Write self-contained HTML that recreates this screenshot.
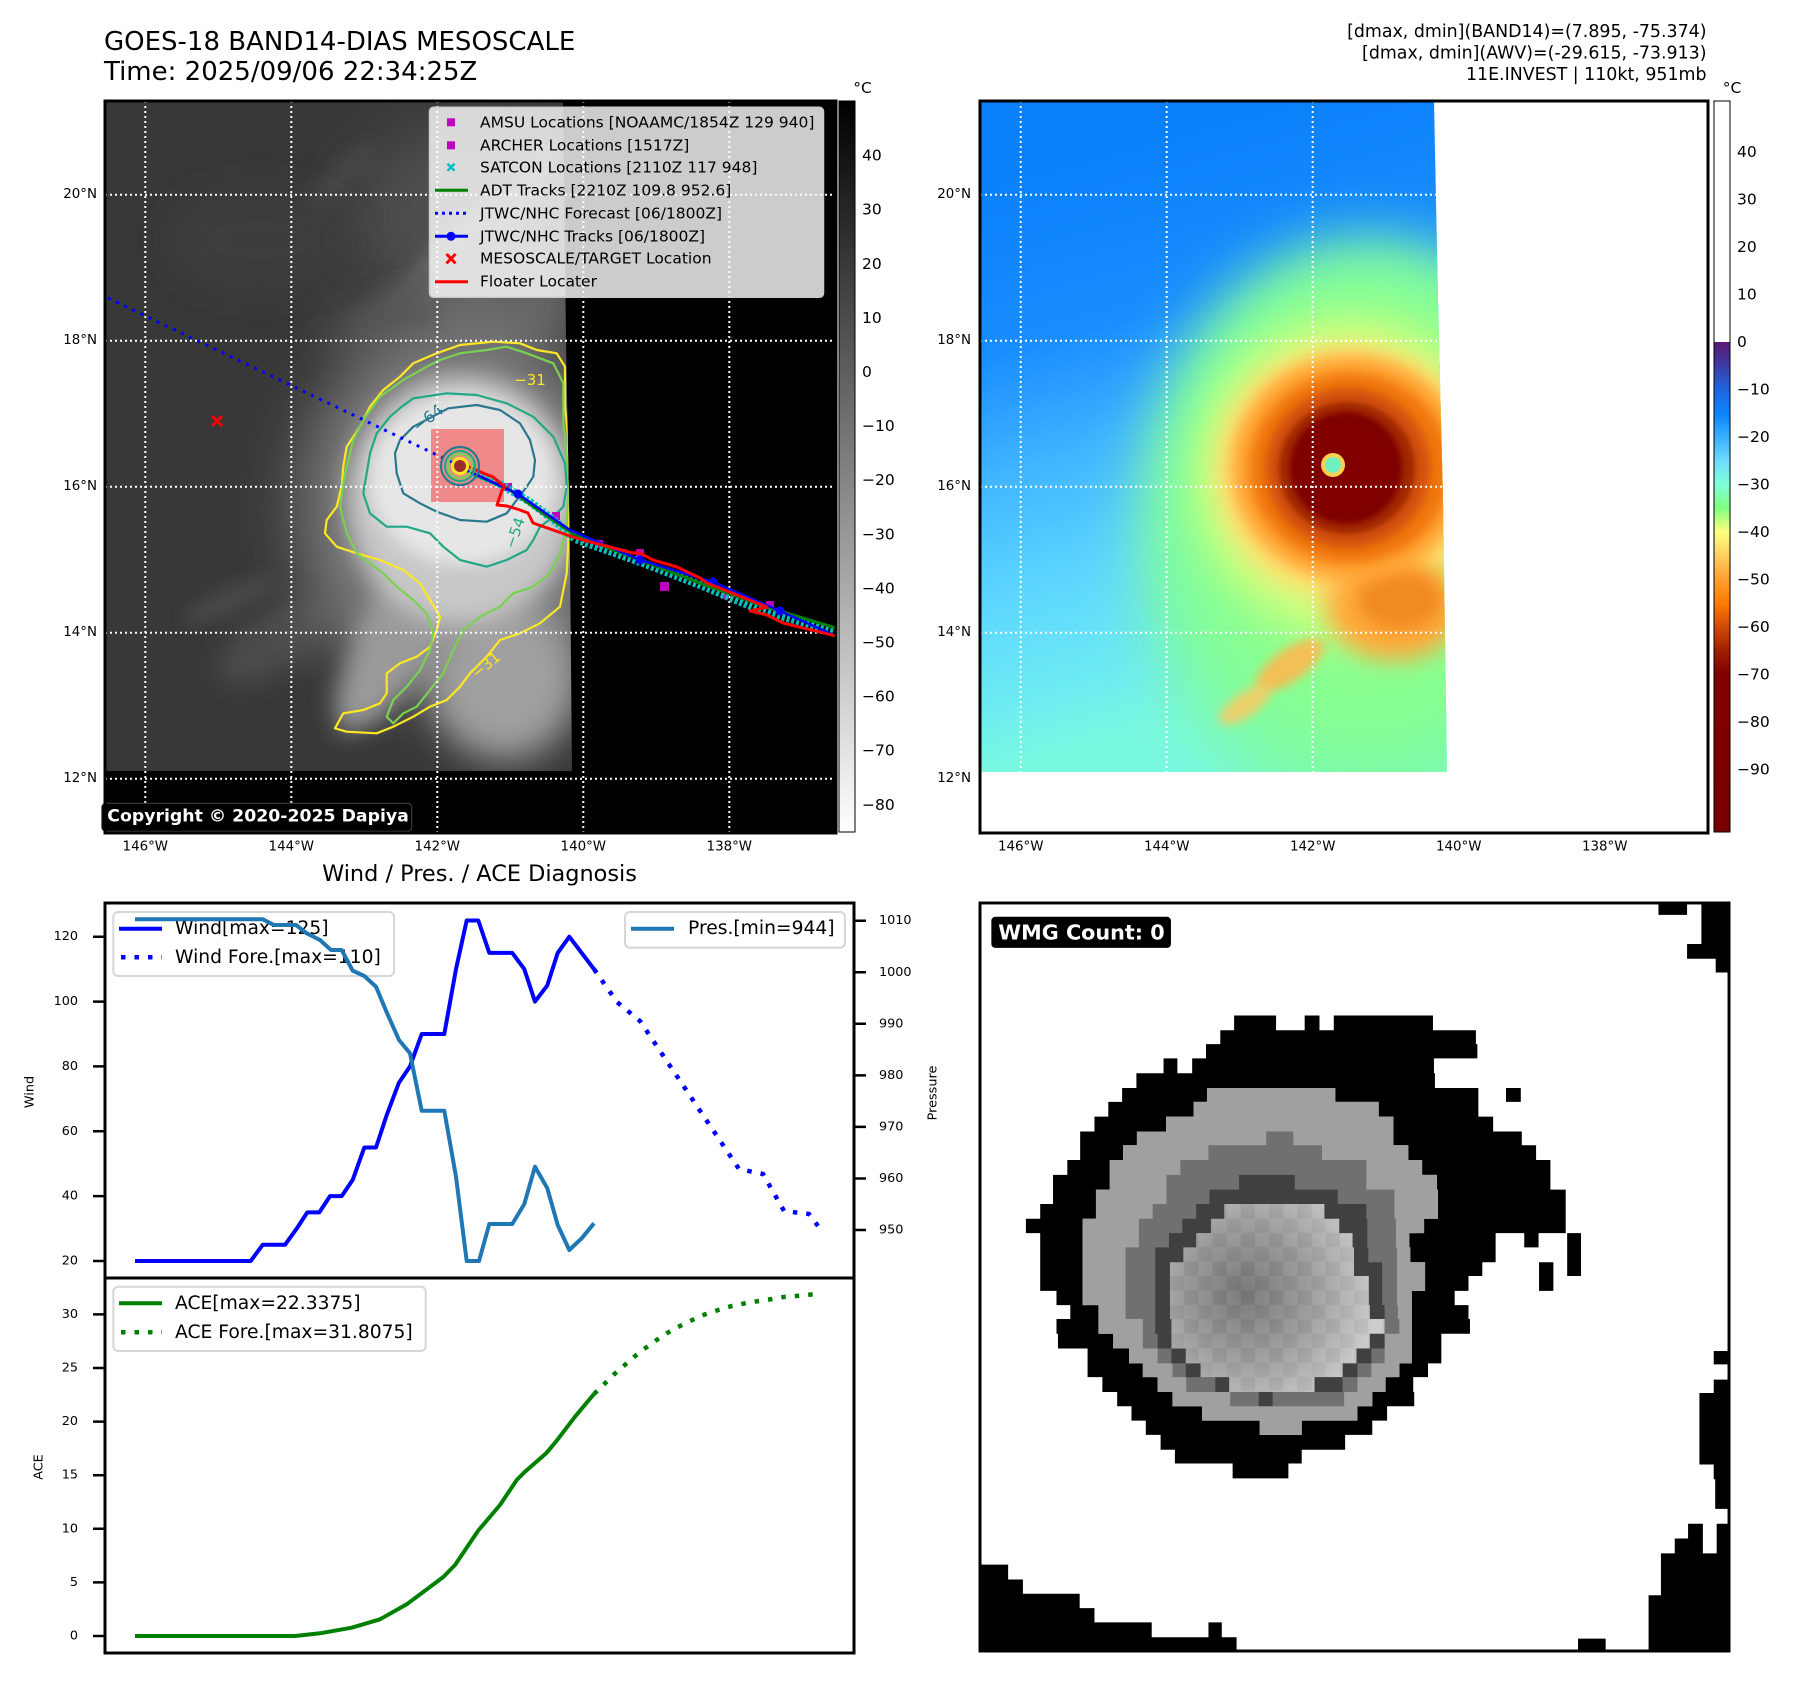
<!DOCTYPE html>
<html><head><meta charset="utf-8"><title>GOES-18 BAND14-DIAS MESOSCALE</title>
<style>
html,body{margin:0;padding:0;background:#fff;width:1797px;height:1690px;overflow:hidden}
svg{display:block}
text{font-family:"DejaVu Sans","Liberation Sans",sans-serif;fill:#000}
</style></head><body>
<svg xmlns="http://www.w3.org/2000/svg" width="1797" height="1690" viewBox="0 0 1797 1690">
<defs>
<filter id="b3" filterUnits="userSpaceOnUse" x="0" y="0" width="1797" height="1690"><feGaussianBlur stdDeviation="3"/></filter>
<filter id="b5" filterUnits="userSpaceOnUse" x="0" y="0" width="1797" height="1690"><feGaussianBlur stdDeviation="5"/></filter>
<filter id="b8" filterUnits="userSpaceOnUse" x="0" y="0" width="1797" height="1690"><feGaussianBlur stdDeviation="8"/></filter>
<filter id="b12" filterUnits="userSpaceOnUse" x="0" y="0" width="1797" height="1690"><feGaussianBlur stdDeviation="12"/></filter>
<filter id="b18" filterUnits="userSpaceOnUse" x="0" y="0" width="1797" height="1690"><feGaussianBlur stdDeviation="18"/></filter>
<filter id="b30" filterUnits="userSpaceOnUse" x="0" y="0" width="1797" height="1690"><feGaussianBlur stdDeviation="30"/></filter>
<clipPath id="cL"><polygon points="105,101 563,101 566,340 570,560 572,771 105,771"/></clipPath>
<clipPath id="cLA"><rect x="105" y="101" width="731" height="732"/></clipPath>
<clipPath id="cR"><polygon points="980,101 1434,101 1438,300 1443,500 1447,772 980,772"/></clipPath>
<linearGradient id="gcb1" x1="0" y1="0" x2="0" y2="1"><stop offset="0" stop-color="#000"/><stop offset="1" stop-color="#fff"/></linearGradient>
<linearGradient id="gcb2" x1="0" y1="0" x2="0" y2="1">
<stop offset="0" stop-color="#fff"/><stop offset="0.3297" stop-color="#fff"/>
<stop offset="0.3297" stop-color="#5c1870"/>
<stop offset="0.3622" stop-color="#3c3ca8"/>
<stop offset="0.3947" stop-color="#1f66dd"/>
<stop offset="0.4272" stop-color="#0a84ff"/>
<stop offset="0.4596" stop-color="#3aaeff"/>
<stop offset="0.4921" stop-color="#6edcff"/>
<stop offset="0.5246" stop-color="#80ffd8"/>
<stop offset="0.5571" stop-color="#80ff80"/>
<stop offset="0.5896" stop-color="#ffff80"/>
<stop offset="0.6221" stop-color="#ffd060"/>
<stop offset="0.6546" stop-color="#ffa030"/>
<stop offset="0.6871" stop-color="#ff7a00"/>
<stop offset="0.7196" stop-color="#d04a08"/>
<stop offset="0.7521" stop-color="#a02000"/>
<stop offset="0.7845" stop-color="#800000"/>
<stop offset="1" stop-color="#780000"/>
</linearGradient>
<linearGradient id="gR" gradientUnits="userSpaceOnUse" x1="1100" y1="150" x2="1250" y2="700">
<stop offset="0" stop-color="#0a80fa"/>
<stop offset="0.3" stop-color="#1a8eff"/>
<stop offset="0.5" stop-color="#40b4ff"/>
<stop offset="0.7" stop-color="#5cd4ff"/>
<stop offset="0.9" stop-color="#6eecf2"/>
<stop offset="1" stop-color="#78f8e0"/>
</linearGradient>
</defs>

<!-- ===== Titles ===== -->
<text x="104" y="42" font-size="26" dominant-baseline="central">GOES-18 BAND14-DIAS MESOSCALE</text>
<text x="104" y="72" font-size="26" dominant-baseline="central">Time: 2025/09/06 22:34:25Z</text>
<text x="1706.5" y="32" font-size="17.4" text-anchor="end" dominant-baseline="central">[dmax, dmin](BAND14)=(7.895, -75.374)</text>
<text x="1706.5" y="53.5" font-size="17.4" text-anchor="end" dominant-baseline="central">[dmax, dmin](AWV)=(-29.615, -73.913)</text>
<text x="1706.5" y="75" font-size="17.4" text-anchor="end" dominant-baseline="central">11E.INVEST | 110kt, 951mb</text>

<!-- ===== Left map ===== -->
<rect x="105" y="101" width="731" height="732" fill="#000"/>
<g clip-path="url(#cL)">
<rect x="105" y="101" width="470" height="670" fill="#383838"/>
<ellipse cx="470" cy="220" rx="120" ry="100" fill="#4e4e4e" filter="url(#b30)"/>
<ellipse cx="500" cy="300" rx="80" ry="60" fill="#626262" filter="url(#b18)"/>
<ellipse cx="455" cy="250" rx="70" ry="18" fill="#6a6a6a" filter="url(#b8)" transform="rotate(-50 455 250)"/>
<ellipse cx="520" cy="200" rx="60" ry="14" fill="#666" filter="url(#b8)" transform="rotate(-60 520 200)"/>
<ellipse cx="400" cy="300" rx="50" ry="14" fill="#5a5a5a" filter="url(#b8)" transform="rotate(-35 400 300)"/>
<ellipse cx="380" cy="330" rx="60" ry="30" fill="#4c4c4c" filter="url(#b18)"/>
<ellipse cx="340" cy="180" rx="50" ry="12" fill="#474747" filter="url(#b8)" transform="rotate(-45 340 180)"/>
<ellipse cx="260" cy="240" rx="90" ry="50" fill="#3e3e3e" filter="url(#b18)"/>
<ellipse cx="280" cy="640" rx="70" ry="30" fill="#4c4c4c" filter="url(#b12)" transform="rotate(-30 280 640)"/>
<ellipse cx="230" cy="600" rx="50" ry="12" fill="#4a4a4a" filter="url(#b8)" transform="rotate(-25 230 600)"/>
<ellipse cx="460" cy="510" rx="160" ry="190" fill="#7a7a7a" filter="url(#b30)"/>
<path d="M400,560 L360,620 L335,700 L340,735 L380,720 L430,660 L470,610 Z" fill="#9a9a9a" filter="url(#b12)"/>
<ellipse cx="505" cy="680" rx="75" ry="80" fill="#a0a0a0" filter="url(#b18)"/>
<ellipse cx="462" cy="500" rx="115" ry="125" fill="#c8c8c8" filter="url(#b12)"/>
<ellipse cx="462" cy="480" rx="92" ry="85" fill="#e6e6e6" filter="url(#b8)"/>
<rect x="431" y="429" width="73" height="73" fill="#ff0000" fill-opacity="0.4"/>
<g fill="none" stroke-width="2.2" stroke-linejoin="round">
<path stroke="#fde725" d="M436.7,353.3 L460,345 L493.3,341.7 L520,343.3 L536.7,350 L556.7,353.3 L565,366.7 L565,406.7 L568.3,440 L568.3,490 L568.3,540 L566.7,573.3 L560,606.7 L540,623.3 L520,633.3 L500,640 L486.7,656.7 L470,673.3 L460,686.7 L446.7,700 L430,706.7 L413.3,716.7 L393.3,726.7 L376.7,733.3 L346.7,731.7 L335,728.3 L343.3,713.3 L363.3,710 L380,703.3 L386.7,693.3 L386.7,673.3 L400,663.3 L416.7,656.7 L430,646.7 L436.7,630 L440,616.7 L430,600 L420,583.3 L403.3,570 L380,560 L356.7,553.3 L336.7,546.7 L325,533.3 L326.7,520 L336.7,506.7 L341.7,486.7 L343.3,466.7 L346.7,446.7 L360,426.7 L370,406.7 L383.3,390 L400,376.7 L413.3,363.3 Z"/>
<path stroke="#7ad151" d="M440,360 L460,353.3 L486.7,350 L506.7,346.7 L526.7,353.3 L553.3,363.3 L563.3,383.3 L563.3,423.3 L566.7,456.7 L568.3,490 L566.7,526.7 L560,553.3 L550,573.3 L533.3,586.7 L513.3,593.3 L500,606.7 L480,616.7 L463.3,630 L453.3,650 L443.3,673.3 L430,690 L416.7,706.7 L403.3,713.3 L393.3,723.3 L386.7,716.7 L393.3,700 L406.7,686.7 L420,670 L430,650 L433.3,633.3 L426.7,613.3 L413.3,600 L396.7,586.7 L383.3,573.3 L370,563.3 L356.7,553.3 L346.7,533.3 L340,506.7 L343.3,483.3 L346.7,466.7 L353.3,440 L363.3,420 L380,396.7 L403.3,380 L426.7,366.7 Z"/>
<path stroke="#22a884" d="M413.3,398.3 L446.7,393.3 L476.7,395 L506.7,403.3 L533.3,416.7 L553.3,436.7 L565,463.3 L566.7,486.7 L563.3,506.7 L553.3,516.7 L540,526.7 L533.3,540 L526.7,550 L506.7,560 L486.7,566.7 L460,560 L443.3,546.7 L430,533.3 L406.7,526.7 L386.7,526.7 L370,513.3 L363.3,493.3 L366.7,473.3 L370,453.3 L376.7,433.3 L390,416.7 L401.7,406.7 Z"/>
<path stroke="#2a788e" d="M448.3,408.3 L476.7,405 L500,410 L520,423.3 L530,440 L535,460 L533.3,476.7 L526.7,486.7 L516.7,500 L506.7,513.3 L486.7,521.7 L460,520 L436.7,511.7 L420,503.3 L403.3,493.3 L396.7,473.3 L395,453.3 L400,440 L413.3,426.7 Z"/>
</g>
<text x="428" y="418" font-size="16" text-anchor="middle" dominant-baseline="central" transform="rotate(-38 428 418)" style="fill:#2a788e">−64</text>
<text x="515" y="533" font-size="15" text-anchor="middle" dominant-baseline="central" transform="rotate(-70 515 533)" style="fill:#22a884">−54</text>
<text x="486" y="665" font-size="15" text-anchor="middle" dominant-baseline="central" transform="rotate(-40 486 665)" style="fill:#fde725">−31</text>
<text x="530" y="380" font-size="15" text-anchor="middle" dominant-baseline="central" style="fill:#fde725">−31</text>
</g>
<g clip-path="url(#cLA)" stroke="#fff" stroke-width="2" stroke-dasharray="2 3" fill="none">
<path d="M145.3,101V833M291.3,101V833M437.3,101V833M583.3,101V833M729.3,101V833"/>
<path d="M105,194.7H836M105,340.7H836M105,486.7H836M105,632.7H836M105,778.7H836"/>
</g>
<g clip-path="url(#cLA)">
<polyline points="108,298 458,465" fill="none" stroke="#0000ff" stroke-width="3" stroke-dasharray="3 6"/>
<g fill="#bf00bf">
<rect x="504" y="483" width="8" height="8"/><rect x="552" y="512" width="8" height="8"/><rect x="595" y="540" width="8" height="8"/><rect x="636" y="549" width="8" height="8"/><rect x="660" y="582" width="9" height="9"/><rect x="721" y="591" width="8" height="8"/><rect x="766" y="601" width="8" height="8"/>
</g>
<polyline points="472,472 500,484 530,502 555,521 575,539 640,562 700,585 760,610 836,632" fill="none" stroke="#00bfbf" stroke-width="8" stroke-dasharray="3 2"/>
<polyline points="465,470 510,490 545,515 575,535 640,560 705,585 770,608 836,628" fill="none" stroke="#008000" stroke-width="3"/>
<polyline points="460,467 518,494 570,530 640,560 713,582 780,611 836,636" fill="none" stroke="#0000ff" stroke-width="2.5"/>
<g fill="#0000ff"><circle cx="518" cy="494" r="4.5"/><circle cx="640" cy="560" r="4.5"/><circle cx="713" cy="582" r="4.5"/><circle cx="780" cy="611" r="4.5"/></g>
<polyline points="467,466 483,473 493,477 505,487 502,490 497,505 507,506 520,510 528,513 533,523 573,537 583,540 633,553 640,553 653,560 677,567 700,578 707,583 767,607 750,611 767,615 783,623 836,636" fill="none" stroke="#ff0000" stroke-width="3" stroke-linejoin="round"/>
<circle cx="460" cy="466" r="19" fill="none" stroke="#2a788e" stroke-width="2.2"/>
<circle cx="460" cy="466" r="15" fill="none" stroke="#22a884" stroke-width="2.2"/>
<circle cx="460" cy="466" r="12" fill="none" stroke="#7ad151" stroke-width="2.2"/>
<circle cx="460" cy="466" r="9" fill="#fde725"/>
<circle cx="460" cy="466" r="6" fill="#9b2c2c"/>
<path d="M212,416 L222,426 M222,416 L212,426" stroke="#ff0000" stroke-width="3"/>
</g>
<rect x="429.5" y="107.3" width="394" height="190" rx="4" fill="#fff" fill-opacity="0.8" stroke="#ccc" stroke-width="1.5"/>
<rect x="447" y="118.3" width="8" height="8" fill="#bf00bf"/>
<rect x="447" y="141.3" width="8" height="8" fill="#bf00bf"/>
<path d="M447.5,163.8 L454.5,170.8 M454.5,163.8 L447.5,170.8" stroke="#00bfbf" stroke-width="2.5"/>
<line x1="435" y1="190.3" x2="468" y2="190.3" stroke="#008000" stroke-width="3"/>
<line x1="435" y1="213.3" x2="468" y2="213.3" stroke="#0000ff" stroke-width="3" stroke-dasharray="3 4"/>
<line x1="435" y1="236.3" x2="468" y2="236.3" stroke="#0000ff" stroke-width="3"/>
<circle cx="451" cy="236.3" r="4.5" fill="#0000ff"/>
<path d="M446.5,254 L455.5,263.4 M455.5,254 L446.5,263.4" stroke="#ff0000" stroke-width="3"/>
<line x1="435" y1="281.7" x2="468" y2="281.7" stroke="#ff0000" stroke-width="3"/>
<g font-size="15.5">
<text x="480" y="122.3" dominant-baseline="central">AMSU Locations [NOAAMC/1854Z 129 940]</text>
<text x="480" y="145.3" dominant-baseline="central">ARCHER Locations [1517Z]</text>
<text x="480" y="167.3" dominant-baseline="central">SATCON Locations [2110Z 117 948]</text>
<text x="480" y="190.3" dominant-baseline="central">ADT Tracks [2210Z 109.8 952.6]</text>
<text x="480" y="213.3" dominant-baseline="central">JTWC/NHC Forecast [06/1800Z]</text>
<text x="480" y="236.3" dominant-baseline="central">JTWC/NHC Tracks [06/1800Z]</text>
<text x="480" y="258.7" dominant-baseline="central">MESOSCALE/TARGET Location</text>
<text x="480" y="281.7" dominant-baseline="central">Floater Locater</text>
</g>
<rect x="101.7" y="803.3" width="310" height="28" rx="4" fill="#000" stroke="#444" stroke-width="1"/>
<text x="107.3" y="816.5" font-size="17.3" font-weight="bold" dominant-baseline="central" style="fill:#fff">Copyright © 2020-2025 Dapiya</text>
<rect x="105" y="101" width="731" height="732" fill="none" stroke="#000" stroke-width="3"/>
<g font-size="13.4">
<text x="97" y="194.7" text-anchor="end" dominant-baseline="central">20°N</text>
<text x="97" y="340.7" text-anchor="end" dominant-baseline="central">18°N</text>
<text x="97" y="486.7" text-anchor="end" dominant-baseline="central">16°N</text>
<text x="97" y="632.7" text-anchor="end" dominant-baseline="central">14°N</text>
<text x="97" y="778.7" text-anchor="end" dominant-baseline="central">12°N</text>
<text x="145.3" y="847" text-anchor="middle" dominant-baseline="central">146°W</text>
<text x="291.3" y="847" text-anchor="middle" dominant-baseline="central">144°W</text>
<text x="437.3" y="847" text-anchor="middle" dominant-baseline="central">142°W</text>
<text x="583.3" y="847" text-anchor="middle" dominant-baseline="central">140°W</text>
<text x="729.3" y="847" text-anchor="middle" dominant-baseline="central">138°W</text>
</g>
<rect x="839" y="101" width="16" height="731" fill="url(#gcb1)" stroke="#000" stroke-width="1"/>
<text x="862.5" y="88" font-size="15.5" text-anchor="middle" dominant-baseline="central">°C</text>
<g font-size="15.5">
<text x="862" y="155.6" dominant-baseline="central">40</text>
<text x="862" y="209.7" dominant-baseline="central">30</text>
<text x="862" y="263.8" dominant-baseline="central">20</text>
<text x="862" y="317.9" dominant-baseline="central">10</text>
<text x="862" y="372" dominant-baseline="central">0</text>
<text x="862" y="426.1" dominant-baseline="central">−10</text>
<text x="862" y="480.2" dominant-baseline="central">−20</text>
<text x="862" y="534.3" dominant-baseline="central">−30</text>
<text x="862" y="588.4" dominant-baseline="central">−40</text>
<text x="862" y="642.5" dominant-baseline="central">−50</text>
<text x="862" y="696.6" dominant-baseline="central">−60</text>
<text x="862" y="750.7" dominant-baseline="central">−70</text>
<text x="862" y="804.8" dominant-baseline="central">−80</text>
</g>

<!-- ===== Right map ===== -->
<rect x="980" y="101" width="728" height="732" fill="#fff"/>
<g clip-path="url(#cR)">
<rect x="980" y="101" width="470" height="671" fill="url(#gR)"/>
<ellipse cx="1370" cy="530" rx="230" ry="290" fill="#7dfaa8" filter="url(#b30)"/>
<ellipse cx="1365" cy="510" rx="190" ry="240" fill="#88ff90" filter="url(#b30)"/>
<ellipse cx="1352" cy="478" rx="158" ry="165" fill="#c8ff80" filter="url(#b18)"/>
<ellipse cx="1350" cy="472" rx="135" ry="130" fill="#ffe070" filter="url(#b12)"/>
<ellipse cx="1395" cy="608" rx="68" ry="52" fill="#ffa83a" filter="url(#b12)"/>
<ellipse cx="1400" cy="600" rx="42" ry="30" fill="#f08a20" filter="url(#b8)"/>
<ellipse cx="1290" cy="665" rx="40" ry="16" fill="#ffb850" fill-opacity="0.9" transform="rotate(-35 1290 665)" filter="url(#b5)"/>
<ellipse cx="1245" cy="705" rx="30" ry="12" fill="#ffc860" fill-opacity="0.85" transform="rotate(-35 1245 705)" filter="url(#b5)"/>
<ellipse cx="1350" cy="468" rx="118" ry="112" fill="#ffa030" filter="url(#b8)"/>
<ellipse cx="1350" cy="468" rx="100" ry="95" fill="#f07810" filter="url(#b5)"/>
<ellipse cx="1348" cy="468" rx="82" ry="80" fill="#d05010" filter="url(#b5)"/>
<ellipse cx="1347" cy="468" rx="68" ry="66" fill="#a02800" filter="url(#b3)"/>
<ellipse cx="1346" cy="468" rx="56" ry="56" fill="#800000" filter="url(#b3)"/>
<circle cx="1333" cy="465" r="12" fill="#ffd050"/>
<circle cx="1333" cy="465" r="8" fill="#70f0c0"/>
</g>
<g stroke="#fff" stroke-width="2" stroke-dasharray="2 3" fill="none" clip-path="url(#cR)">
<path d="M1020.7,101V772M1166.7,101V772M1312.7,101V772"/>
<path d="M980,194.7H1450M980,340.7H1450M980,486.7H1450M980,632.7H1450"/>
</g>
<rect x="980" y="101" width="728" height="732" fill="none" stroke="#000" stroke-width="3"/>
<g font-size="13.4">
<text x="971" y="194.7" text-anchor="end" dominant-baseline="central">20°N</text>
<text x="971" y="340.7" text-anchor="end" dominant-baseline="central">18°N</text>
<text x="971" y="486.7" text-anchor="end" dominant-baseline="central">16°N</text>
<text x="971" y="632.7" text-anchor="end" dominant-baseline="central">14°N</text>
<text x="971" y="778.7" text-anchor="end" dominant-baseline="central">12°N</text>
<text x="1020.7" y="847" text-anchor="middle" dominant-baseline="central">146°W</text>
<text x="1166.7" y="847" text-anchor="middle" dominant-baseline="central">144°W</text>
<text x="1312.7" y="847" text-anchor="middle" dominant-baseline="central">142°W</text>
<text x="1458.7" y="847" text-anchor="middle" dominant-baseline="central">140°W</text>
<text x="1604.7" y="847" text-anchor="middle" dominant-baseline="central">138°W</text>
</g>
<rect x="1714" y="101" width="16" height="731" fill="url(#gcb2)" stroke="#000" stroke-width="1"/>
<text x="1732" y="88" font-size="15.5" text-anchor="middle" dominant-baseline="central">°C</text>
<g font-size="15.5">
<text x="1737" y="152" dominant-baseline="central">40</text>
<text x="1737" y="199.5" dominant-baseline="central">30</text>
<text x="1737" y="247" dominant-baseline="central">20</text>
<text x="1737" y="294.5" dominant-baseline="central">10</text>
<text x="1737" y="342" dominant-baseline="central">0</text>
<text x="1737" y="389.5" dominant-baseline="central">−10</text>
<text x="1737" y="437" dominant-baseline="central">−20</text>
<text x="1737" y="484.5" dominant-baseline="central">−30</text>
<text x="1737" y="532" dominant-baseline="central">−40</text>
<text x="1737" y="579.5" dominant-baseline="central">−50</text>
<text x="1737" y="627" dominant-baseline="central">−60</text>
<text x="1737" y="674.5" dominant-baseline="central">−70</text>
<text x="1737" y="722" dominant-baseline="central">−80</text>
<text x="1737" y="769.5" dominant-baseline="central">−90</text>
</g>

<!-- ===== Wind / Pres / ACE ===== -->
<text x="479.5" y="874" font-size="22.4" text-anchor="middle" dominant-baseline="central">Wind / Pres. / ACE Diagnosis</text>
<polyline points="135,1261 250.7,1261 262.7,1244.8 285,1244.8 296.7,1228.6 307.3,1212.4 319.3,1212.4 330,1196.1 341.7,1196.1 352.7,1179.9 364.3,1147.5 376,1147.5 386.7,1115.1 399,1082.6 410,1066.4 421.7,1034 444.3,1034 456,969.1 466.7,920.5 478.3,920.5 489.3,952.9 512.3,952.9 524.3,969.1 535,1001.6 547.3,985.4 557.7,952.9 569.3,936.7 594,969.1" fill="none" stroke="#0000ff" stroke-width="4" stroke-linejoin="round"/>
<polyline points="594,969.1 617,1002 640,1021 739,1169 763,1174 784,1211 809,1214 818,1226" fill="none" stroke="#0000ff" stroke-width="4.5" stroke-dasharray="4.5 9"/>
<rect x="113.3" y="912" width="280.7" height="64" rx="5" fill="#fff" fill-opacity="0.8" stroke="#d6d6d6" stroke-width="2"/>
<line x1="119" y1="928.7" x2="162" y2="928.7" stroke="#0000ff" stroke-width="4"/>
<line x1="121" y1="957.3" x2="162" y2="957.3" stroke="#0000ff" stroke-width="4.5" stroke-dasharray="4.5 9"/>
<text x="175" y="928.7" font-size="18.7" dominant-baseline="central">Wind[max=125]</text>
<text x="175" y="957.3" font-size="18.7" dominant-baseline="central">Wind Fore.[max=110]</text>
<polyline points="135,919.3 262.7,919.3 274,925 296,925 306.7,933.3 320,940 331,950 341.7,950 352.7,970.7 364.3,976 376,986.7 386.7,1012.3 399,1040 410,1053.3 421.7,1110.7 444.3,1110.7 456,1176.7 466.7,1261 479,1261 489.3,1224 512.3,1224 524.3,1204 535,1166.7 547.3,1188.3 557.7,1225 569.3,1250 581.7,1238.3 594,1223.3" fill="none" stroke="#1f77b4" stroke-width="4" stroke-linejoin="round"/>
<rect x="625" y="912" width="220" height="35.7" rx="5" fill="#fff" fill-opacity="0.8" stroke="#d6d6d6" stroke-width="2"/>
<line x1="631" y1="928.7" x2="674" y2="928.7" stroke="#1f77b4" stroke-width="4"/>
<text x="688" y="928.7" font-size="18.7" dominant-baseline="central">Pres.[min=944]</text>
<rect x="105" y="903" width="749" height="375" fill="none" stroke="#000" stroke-width="3"/>
<g stroke="#000" stroke-width="2.5">
<path d="M93,1261H105M93,1196.1H105M93,1131.3H105M93,1066.4H105M93,1001.6H105M93,936.7H105"/>
<path d="M854,1230H866M854,1178.5H866M854,1126.9H866M854,1075.4H866M854,1023.8H866M854,972.3H866M854,920.7H866"/>
<path d="M93,1636H105M93,1582.4H105M93,1528.8H105M93,1475.2H105M93,1421.6H105M93,1368H105M93,1314.4H105"/>
</g>
<g font-size="12.8">
<text x="78" y="1261" text-anchor="end" dominant-baseline="central">20</text>
<text x="78" y="1196.1" text-anchor="end" dominant-baseline="central">40</text>
<text x="78" y="1131.3" text-anchor="end" dominant-baseline="central">60</text>
<text x="78" y="1066.4" text-anchor="end" dominant-baseline="central">80</text>
<text x="78" y="1001.6" text-anchor="end" dominant-baseline="central">100</text>
<text x="78" y="936.7" text-anchor="end" dominant-baseline="central">120</text>
<text x="879" y="1230" dominant-baseline="central">950</text>
<text x="879" y="1178.5" dominant-baseline="central">960</text>
<text x="879" y="1126.9" dominant-baseline="central">970</text>
<text x="879" y="1075.4" dominant-baseline="central">980</text>
<text x="879" y="1023.8" dominant-baseline="central">990</text>
<text x="879" y="972.3" dominant-baseline="central">1000</text>
<text x="879" y="920.7" dominant-baseline="central">1010</text>
<text x="78" y="1636" text-anchor="end" dominant-baseline="central">0</text>
<text x="78" y="1582.4" text-anchor="end" dominant-baseline="central">5</text>
<text x="78" y="1528.8" text-anchor="end" dominant-baseline="central">10</text>
<text x="78" y="1475.2" text-anchor="end" dominant-baseline="central">15</text>
<text x="78" y="1421.6" text-anchor="end" dominant-baseline="central">20</text>
<text x="78" y="1368" text-anchor="end" dominant-baseline="central">25</text>
<text x="78" y="1314.4" text-anchor="end" dominant-baseline="central">30</text>
<text x="30" y="1092" text-anchor="middle" dominant-baseline="central" transform="rotate(-90 30 1092)">Wind</text>
<text x="933" y="1093" text-anchor="middle" dominant-baseline="central" transform="rotate(-90 933 1093)">Pressure</text>
<text x="39" y="1467" text-anchor="middle" dominant-baseline="central" transform="rotate(-90 39 1467)">ACE</text>
</g>
<polyline points="135,1636 295,1636 320,1633.3 351.7,1627.7 380,1619.3 406.7,1604.3 443.3,1577 455,1565 478.3,1530.5 500,1505 516.7,1480 525,1471.7 546.7,1452.7 556.7,1440.7 575,1416.7 594,1394" fill="none" stroke="#008000" stroke-width="4" stroke-linejoin="round"/>
<polyline points="594,1394 603.3,1385 613.3,1375 624,1365.7 634.3,1356.7 645,1348.3 656.7,1340 667.7,1332.7 680,1326 692.3,1320 705,1314.3 718.3,1310 731.7,1306 745,1303.3 759,1301 772.3,1299 785.7,1296.7 800,1295.7 813.3,1294.3 818,1294" fill="none" stroke="#008000" stroke-width="4.5" stroke-dasharray="4.5 9"/>
<rect x="113.3" y="1286.7" width="312.4" height="64.3" rx="5" fill="#fff" fill-opacity="0.8" stroke="#d6d6d6" stroke-width="2"/>
<line x1="119" y1="1303.3" x2="162" y2="1303.3" stroke="#008000" stroke-width="4"/>
<line x1="121" y1="1332.3" x2="162" y2="1332.3" stroke="#008000" stroke-width="4.5" stroke-dasharray="4.5 9"/>
<text x="175" y="1303.3" font-size="18.7" dominant-baseline="central">ACE[max=22.3375]</text>
<text x="175" y="1332.3" font-size="18.7" dominant-baseline="central">ACE Fore.[max=31.8075]</text>
<rect x="105" y="1278" width="749" height="375" fill="none" stroke="#000" stroke-width="3"/>

<!-- ===== WMG panel ===== -->
<svg x="975.07" y="894.6" width="764.8" height="764.8" viewBox="0 0 1550 1550">
<defs>
<clipPath id="cB"><rect x="10" y="17" width="1518" height="1516"/></clipPath>
<radialGradient id="gI" gradientUnits="userSpaceOnUse" cx="545" cy="805" r="270">
<stop offset="0" stop-color="#767676"/>
<stop offset="0.45" stop-color="#969696"/>
<stop offset="0.8" stop-color="#b6b6b6"/>
<stop offset="1" stop-color="#cacaca"/>
</radialGradient>
<pattern id="pp" patternUnits="userSpaceOnUse" x="395" y="627" width="57.4" height="58.4">
<rect x="0" y="0" width="28.7" height="29.2" fill="#fff" fill-opacity="0.05"/>
<rect x="28.7" y="0" width="28.7" height="29.2" fill="#000" fill-opacity="0.035"/>
<rect x="0" y="29.2" width="28.7" height="29.2" fill="#000" fill-opacity="0.025"/>
<rect x="28.7" y="29.2" width="28.7" height="29.2" fill="#fff" fill-opacity="0.035"/>
</pattern>
</defs>
<g clip-path="url(#cB)">
<rect x="10" y="17" width="1518" height="1516" fill="#fff"/>
<path fill="#000" d="M1385 17H1443V41H1385Z M1472 17H1528V100H1472Z M1443 100H1528V130H1443Z M1501 130H1528V158H1501Z
M525 245H610V275H525Z M668 245H698V275H668Z M727 245H928V275H727Z M497 275H1015V303H497Z M468 303H1018V332H468Z
M382 332H410V362H382Z M440 332H930V362H440Z M327 362H932V392H327Z M298 392H470V420H298Z M730 392H1020V420H730Z M1076 392H1106V420H1076Z
M270 420H443V450H270Z M818 420H1020V450H818Z M242 450H387V480H242Z M848 450H1050V480H848Z M213 480H328V508H213Z M848 480H1108V508H848Z
M213 508H300V538H213Z M878 508H1137V538H878Z M187 538H273V568H187Z M906 538H1166V568H906Z M158 568H273V598H158Z M936 568H1166V598H936Z
M158 598H245V627H158Z M938 598H1197V627H938Z M132 627H245V657H132Z M938 627H1197V657H938Z M103 657H218V686H103Z M910 657H1197V686H910Z
M132 686H218V803H132Z M880 686H1055V715H880Z M1113 686H1142V715H1113Z M1200 686H1228V773H1200Z
M882 715H1055V745H882Z M912 745H1028V773H912Z M1143 745H1172V803H1143Z M912 773H1000V803H912Z
M165 803H218V832H165Z M885 803H972V832H885Z M193 832H250V860H193Z M885 832H1000V860H885Z M165 860H250V890H165Z M885 860H1003V890H885Z
M168 890H280V920H168Z M885 890H945V950H885Z M228 920H312V950H228Z M228 950H340V978H228Z M860 950H918V978H860Z
M258 978H370V1008H258Z M832 978H888V1008H832Z M288 1008H400V1037H288Z M805 1008H890V1037H805Z M317 1037H460V1066H317Z M775 1037H835V1066H775Z
M346 1066H577V1095H346Z M662 1066H805V1095H662Z M376 1095H750V1125H376Z M405 1125H662V1153H405Z M522 1153H635V1183H522Z
M1497 925H1528V952H1497Z M1497 983H1528V1010H1497Z M1468 1010H1528V1155H1468Z M1497 1155H1528V1185H1497Z M1500 1185H1528V1245H1500Z
M1445 1275H1475V1335H1445Z M1503 1275H1528V1335H1503Z M1418 1305H1445V1335H1418Z M1390 1335H1528V1420H1390Z M1365 1420H1528V1533H1365Z
M10 1358H67V1388H10Z M10 1388H97V1417H10Z M10 1417H212V1446H10Z M10 1446H242V1475H10Z M10 1475H358V1505H10Z M473 1475H500V1505H473Z M10 1505H530V1533H10Z M1222 1508H1278V1533H1222Z"/>
<path fill="#a0a0a0" d="M470 392H730V420H470Z M443 420H818V450H443Z M387 450H848V480H387Z M328 480H848V508H328Z M300 508H878V538H300Z M273 538H906V568H273Z M273 568H936V598H273Z M245 598H938V657H245Z M218 657H910V686H218Z M218 686H880V715H218Z M218 715H882V745H218Z M218 745H912V803H218Z M218 803H885V832H218Z M250 832H885V890H250Z M280 890H885V920H280Z M312 920H885V950H312Z M340 950H860V978H340Z M370 978H832V1008H370Z M400 1008H805V1037H400Z M460 1037H775V1066H460Z M577 1066H662V1095H577Z"/>
<path fill="#707070" d="M590 480H645V508H590Z M473 508H703V538H473Z M416 538H793V568H416Z M388 568H793V598H388Z M388 598H850V627H388Z M360 627H850V657H360Z M332 657H853V715H332Z M305 715H855V832H305Z M305 832H857V860H305Z M340 860H860V890H340Z M340 890H830V920H340Z M370 920H830V950H370Z M400 950H803V978H400Z M428 978H775V1008H428Z M517 1008H748V1037H517Z"/>
<path fill="#404040" d="M535 568H648V598H535Z M475 598H735V627H475Z M448 627H793V657H448Z M420 657H795V686H420Z M393 686H795V715H393Z M365 715H797V745H365Z M365 745H825V832H365Z M365 832H830V890H365Z M370 890H830V920H370Z M398 920H803V950H398Z M427 950H775V978H427Z M487 978H745V1008H487Z M575 1008H603V1037H575Z"/>
<path fill="url(#gI)" d="M505 627H708V657H505Z M478 657H738V686H478Z M448 686H765V715H448Z M422 715H768V745H422Z M395 745H768V773H395Z M395 773H798V832H395Z M395 832H800V860H395Z M398 860H830V890H398Z M398 890H800V920H398Z M427 920H773V950H427Z M457 950H745V978H457Z M515 978H688V1008H515Z"/>
<path fill="url(#pp)" d="M505 627H708V657H505Z M478 657H738V686H478Z M448 686H765V715H448Z M422 715H768V745H422Z M395 745H768V773H395Z M395 773H798V832H395Z M395 832H800V860H395Z M398 860H830V890H398Z M398 890H800V920H398Z M427 920H773V950H427Z M457 950H745V978H457Z M515 978H688V1008H515Z"/>
<rect x="33" y="45" width="364" height="63" rx="8" fill="#000"/>
<text x="47" y="77" font-size="42" font-weight="bold" dominant-baseline="central" style="fill:#fff">WMG Count: 0</text>
</g>
<rect x="10" y="17" width="1518" height="1516" fill="none" stroke="#000" stroke-width="6"/>
</svg>
</svg>
</body></html>
